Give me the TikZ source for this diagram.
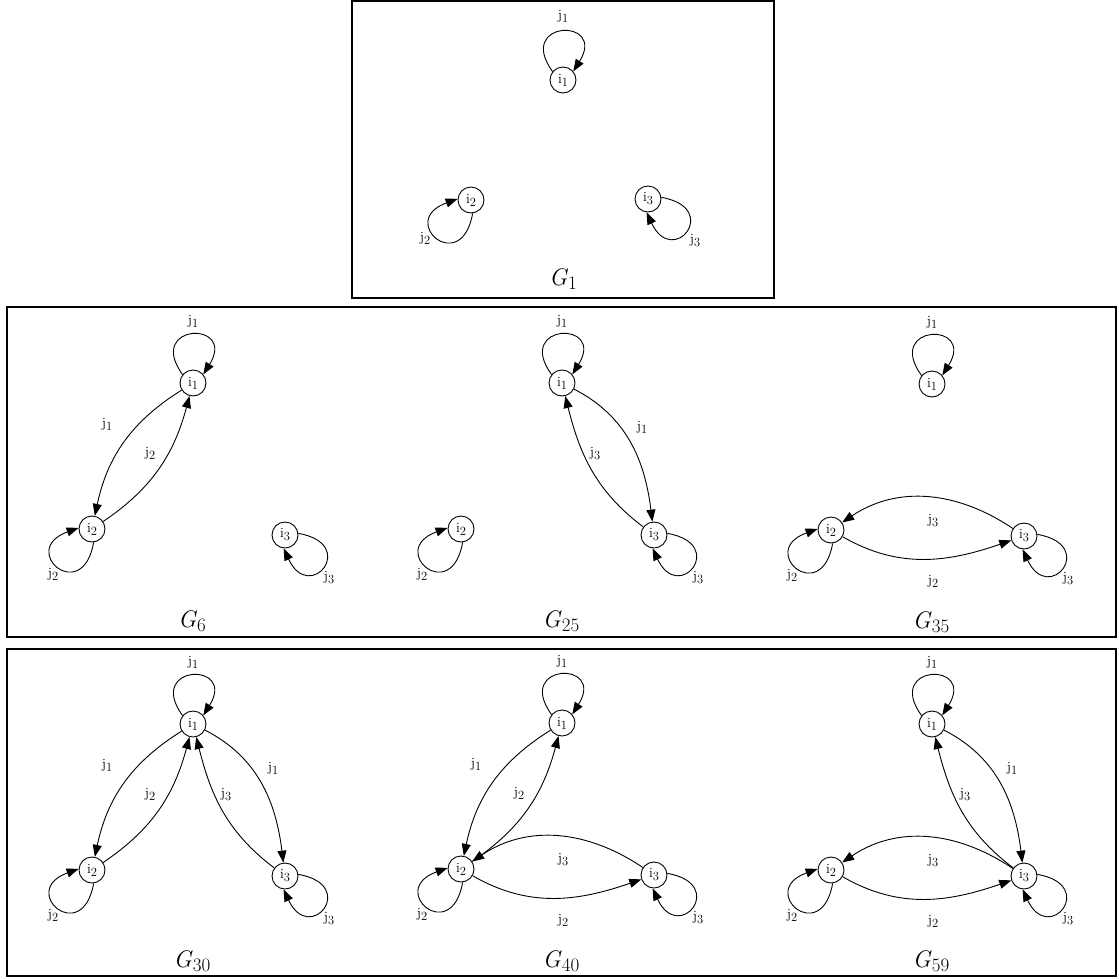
\documentclass[tikz,border=0pt]{standalone}
\usepackage{fontspec}
\usetikzlibrary{arrows.meta,calc}
\newcommand\Sm[2]{#1{\fontsize{12.5}{13}\selectfont\raisebox{-3pt}{#2}}}
\newcommand\Gl[1]{\textit{G}{\fontsize{19}{20}\selectfont\raisebox{-3.5pt}{#1}}}
\tikzset{
  vtx/.style={circle,draw,line width=0.9pt,minimum size=26pt,inner sep=0pt,font=\fontsize{14}{15}\selectfont},
  lab/.style={inner sep=0pt,font=\fontsize{14}{15}\selectfont},
  edge/.style={line width=0.9pt,-{Triangle[length=12pt,width=9pt]}},
  frame/.style={line width=1.4pt},
  glab/.style={inner sep=0pt,font=\fontsize{24}{26}\selectfont},
}
\newcommand\LoopTop[1]{\draw[edge] (#1.141) .. controls +(126:64pt) and +(58:64pt) .. (#1.40);}
\newcommand\LoopLeft[1]{\draw[edge] (#1.-83) .. controls +(-100:65pt) and +(200:65pt) .. (#1.175);}
\newcommand\LoopRight[1]{\draw[edge] (#1.7) .. controls +(-10:62pt) and +(-65:62pt) .. (#1.-96);}
% three vertices of a panel, #1 prefix, (#2,#3) position of i1
\newcommand\Verts[3]{%
  \node[vtx] (#1a) at (#2,#3) {\Sm{i}{1}};
  \node[vtx] (#1b) at ($(#1a)+(-101,146)$) {\Sm{i}{2}};
  \node[vtx] (#1c) at ($(#1a)+(92,152)$) {\Sm{i}{3}};
  \LoopTop{#1a}\LoopLeft{#1b}\LoopRight{#1c}
  \node[lab] (#1la) at ($(#1a)+(0,-62)$) {\Sm{j}{1}};
  \node[lab] (#1lb) at ($(#1b)+(-39,45)$) {\Sm{j}{2}};
  \node[lab] (#1lc) at ($(#1c)+(44,43)$) {\Sm{j}{3}};
}
\newcommand\EdgeAB[1]{%
  \draw[edge] (#1a) to[out=212,in=78] (#1b);
  \draw[edge] (#1b) to[out=34,in=255] (#1a);
  \node[lab] (#1lab) at ($(#1a)+(-86,41)$) {\Sm{j}{1}};
  \node[lab] (#1lba) at ($(#1a)+(-43,70)$) {\Sm{j}{2}};
}
\newcommand\EdgeAC[1]{%
  \draw[edge] (#1a) to[out=-27,in=97] (#1c);
  \draw[edge] (#1c) to[out=143,in=284] (#1a);
  \node[lab] (#1lac) at ($(#1a)+(80,44)$) {\Sm{j}{1}};
  \node[lab] (#1lca) at ($(#1a)+(33,71)$) {\Sm{j}{3}};
}
\newcommand\EdgeBC[1]{%
  \draw[edge] (#1b) to[out=-30,in=199] (#1c);
  \draw[edge] (#1c) to[out=146,in=34] (#1b);
  \node[lab] (#1lcb) at ($(#1a)+(1,137)$) {\Sm{j}{3}};
  \node[lab] (#1lbc) at ($(#1a)+(1,197)$) {\Sm{j}{2}};
}
\begin{document}
\begin{tikzpicture}[x=1pt,y=-1pt]
\useasboundingbox (0,0) rectangle (1119,978);
% frames
\draw[frame] (352,1) rectangle (774,298);
\draw[frame] (7,307) rectangle (1116,637);
\draw[frame] (7,649) rectangle (1116,976);
% G1
\node[vtx] (ka) at (563,80) {\Sm{i}{1}};
\node[vtx] (kb) at (471,200) {\Sm{i}{2}};
\node[vtx] (kc) at (648,199) {\Sm{i}{3}};
\LoopTop{ka}\LoopLeft{kb}\LoopRight{kc}
\node[lab] (kla) at (563,16) {\Sm{j}{1}};
\node[lab] (klb) at (425,238) {\Sm{j}{2}};
\node[lab] (klc) at (695,241) {\Sm{j}{3}};
\node[glab] (kg) at (563,279) {\Gl{1}};
% G6
\Verts{f}{193}{383}\EdgeAB{f}
\node[glab] (fg) at ($(fa)+(-1,238)$) {\Gl{6}};
% G25
\Verts{g}{562}{383}\EdgeAC{g}
\node[glab] (gg) at ($(ga)+(-1,238)$) {\Gl{25}};
% G35
\Verts{h}{932}{384}\EdgeBC{h}
\node[glab] (hg) at ($(ha)+(-1,238)$) {\Gl{35}};
% G30
\Verts{p}{193}{724}\EdgeAB{p}\EdgeAC{p}
\node[glab] (pg) at ($(pa)+(-1,237)$) {\Gl{30}};
% G40
\Verts{q}{562}{723}\EdgeAB{q}\EdgeBC{q}
\node[glab] (qg) at ($(qa)+(-1,238)$) {\Gl{40}};
% G59
\Verts{r}{932}{724}\EdgeAC{r}\EdgeBC{r}
\node[glab] (rg) at ($(ra)+(-1,237)$) {\Gl{59}};
\end{tikzpicture}
\end{document}
